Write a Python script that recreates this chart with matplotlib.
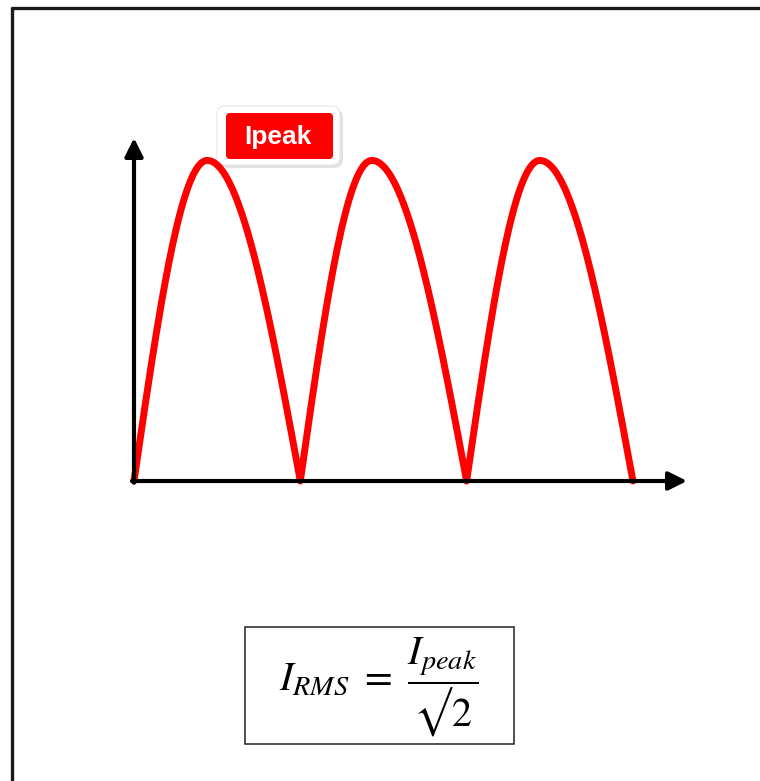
import numpy as np
import matplotlib
matplotlib.use("Agg")
import matplotlib.pyplot as plt
from matplotlib.patches import FancyBboxPatch, Rectangle

# half-cycle boundaries (zero crossings) and peaks, in half-period units
zeros_t = [0.0, 1.0, 2.0, 3.0]
peak_t = [0.44, 1.43, 2.44]
peak_i = [1.0, 1.0, 1.0]
t_end = 3.325   # end of time axis arrow
i_end = 1.07    # end of current axis arrow

peak_label = "Ipeak"
formula = r"$I_{RMS}\ =\ \dfrac{I_{peak}}{" + "\u221a" + r"2}$"

W, H = 760, 781
plt.rcParams["mathtext.fontset"] = "stix"
fig = plt.figure(figsize=(W / 100, H / 100), dpi=100)

# overlay axes in pixel coords for frame / labels
ov = fig.add_axes([0, 0, 1, 1])
ov.set_xlim(0, W)
ov.set_ylim(H, 0)
ov.axis("off")
ov.plot([11, W + 5], [8, 8], color="#1a1a1a", lw=2.4, solid_capstyle="butt")
ov.plot([11.5, 11.5], [7, H + 5], color="#1a1a1a", lw=2.4, solid_capstyle="butt")

# main chart axes
ax = fig.add_axes([134 / W, 1 - 481 / H, (687 - 134) / W, (481 - 138) / H])
ax.set_xlim(0, t_end)
ax.set_ylim(0, i_end)
ax.axis("off")

# build rectified curve from zero/peak points
xs, ys = [], []
for k in range(len(peak_t)):
    s = np.linspace(0, 1, 60)
    xs += list(zeros_t[k] + s * (peak_t[k] - zeros_t[k]))
    ys += list(peak_i[k] * np.sin(np.pi / 2 * s))
    xs += list(peak_t[k] + s * (zeros_t[k + 1] - peak_t[k]))
    ys += list(peak_i[k] * np.cos(np.pi / 2 * s))
ax.plot(xs, ys, color="#ff0000", lw=5, clip_on=False, zorder=2,
        solid_joinstyle="round", solid_capstyle="round")

arrow = dict(arrowstyle="-|>,head_length=1.1,head_width=0.55", mutation_scale=10,
             color="black", lw=3, shrinkA=0, shrinkB=0)
ax.annotate("", xy=(0, i_end), xytext=(0, -0.005), arrowprops=arrow,
            annotation_clip=False, zorder=3)
ax.annotate("", xy=(t_end, 0), xytext=(-0.012, 0), arrowprops=arrow,
            annotation_clip=False, zorder=3)

# Ipeak callout
ov.add_patch(FancyBboxPatch((220, 109), 123, 59, boxstyle="round,pad=0,rounding_size=9",
                            fc="#aaaaaa", ec="none", alpha=0.35, zorder=4))
ov.add_patch(FancyBboxPatch((217, 106), 123, 59, boxstyle="round,pad=0,rounding_size=8",
                            fc="white", ec="#e6e6e6", lw=0.8, zorder=5))
ov.add_patch(FancyBboxPatch((226, 113), 107, 46, boxstyle="round,pad=0,rounding_size=4",
                            fc="#ff0000", ec="none", zorder=6))
ov.text(277.5, 137, peak_label, color="white", fontsize=19, fontweight="bold",
        family="Liberation Sans", ha="center", va="center", zorder=7)

# formula box
ov.add_patch(Rectangle((245, 627), 269, 117, fc="white", ec="#222222", lw=1.1, zorder=4))
ov.text(379, 687, formula, fontsize=29, ha="center", va="center", zorder=5)

fig.savefig("out.png", dpi=100)
